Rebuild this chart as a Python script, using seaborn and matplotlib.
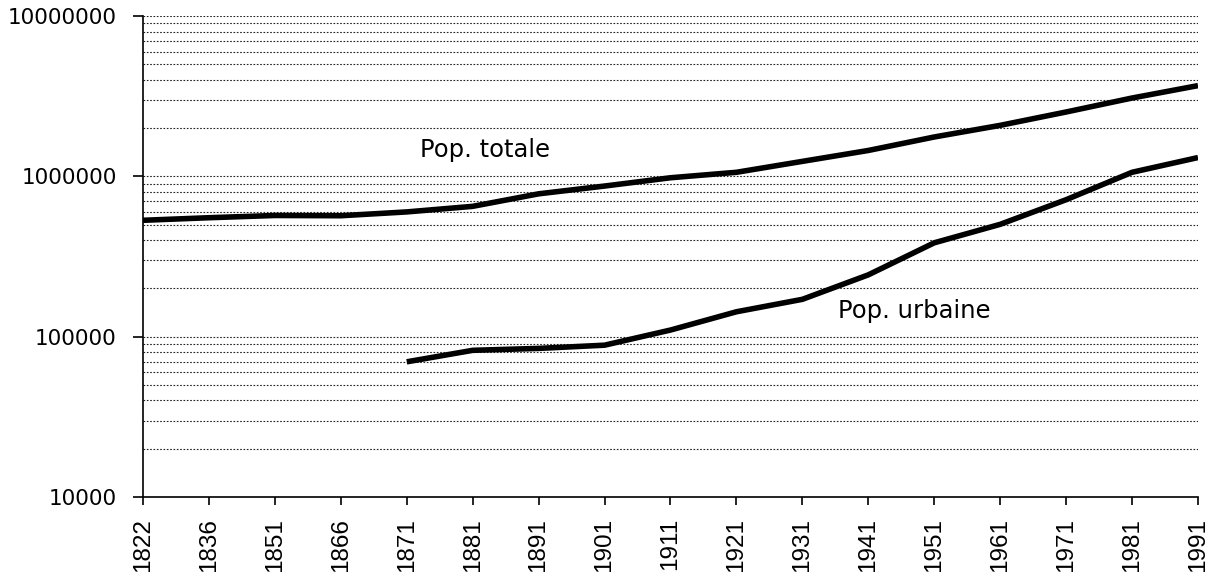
import matplotlib
matplotlib.use("Agg")
import matplotlib.pyplot as plt
import matplotlib.ticker as mticker
import numpy as np
import pandas as pd
import seaborn as sns

# ---- data ----
years = ["1822", "1836", "1851", "1866", "1871", "1881", "1891", "1901", "1911",
         "1921", "1931", "1941", "1951", "1961", "1971", "1981", "1991"]
pop_totale = [532000, 552000, 570000, 568000, 600000, 650000, 778000, 870000, 980000,
              1060000, 1240000, 1450000, 1760000, 2080000, 2520000, 3080000, 3680000]
pop_urbaine = [np.nan, np.nan, np.nan, np.nan, 69700, 82200, 84500, 88500, 110000,
               143000, 171000, 243000, 385000, 502000, 715000, 1060000, 1310000]
series_names = ["Pop. totale", "Pop. urbaine"]
y_ticks = [10000, 100000, 1000000, 10000000]

sns.set_style("ticks")
plt.rcParams["font.family"] = ["DejaVu Sans"]
plt.rcParams["text.color"] = "black"
plt.rcParams["xtick.color"] = "black"
plt.rcParams["ytick.color"] = "black"
plt.rcParams["axes.edgecolor"] = "black"

pos = list(range(len(years)))
df = pd.DataFrame({
    "pos": pos * 2,
    "value": pop_totale + pop_urbaine,
    "series": [series_names[0]] * len(years) + [series_names[1]] * len(years),
}).dropna()

fig = plt.figure(figsize=(12.15, 5.72), dpi=100)
ax = fig.add_axes([0.1177, 0.1311, 0.8683, 0.8409])

sns.lineplot(data=df, x="pos", y="value", hue="series",
             palette={series_names[0]: "black", series_names[1]: "black"},
             linewidth=4, legend=False, ax=ax, sort=True)
for ln in ax.lines:
    ln.set_solid_capstyle("butt")
    ln.set_solid_joinstyle("round")

ax.set_yscale("log")
ax.set_ylim(10000, 10000000)
ax.set_xlim(0, len(years) - 1)

ax.yaxis.set_major_locator(mticker.FixedLocator(y_ticks))
ax.yaxis.set_major_formatter(mticker.FuncFormatter(lambda v, p: f"{int(round(v))}"))
ax.yaxis.set_minor_locator(mticker.LogLocator(base=10, subs=np.arange(2, 10)))
ax.yaxis.set_minor_formatter(mticker.NullFormatter())

ax.set_xticks(pos)
ax.set_xticklabels(years, rotation=90, fontfamily="Liberation Sans", fontsize=17.5,
                   color="black")

ax.tick_params(axis="y", which="major", length=7, width=1.2, direction="out",
               labelsize=15.5, pad=12, color="black", labelcolor="black")
ax.tick_params(axis="y", which="minor", length=0)
ax.tick_params(axis="x", which="major", length=6, width=1.2, direction="out",
               pad=9, color="black")

ax.yaxis.grid(True, which="both", linestyle=(0, (1.5, 1.5)), color="#222222",
              linewidth=0.8)
ax.xaxis.grid(False)
ax.set_axisbelow(True)

for s in ["top", "right"]:
    ax.spines[s].set_visible(False)
for s in ["left", "bottom"]:
    ax.spines[s].set_color("black")
    ax.spines[s].set_linewidth(1.2)

ax.set_xlabel("")
ax.set_ylabel("")

ax.text(4.2, 1320000, series_names[0], fontsize=17.5, color="black",
        ha="left", va="baseline")
ax.text(10.54, 131000, series_names[1], fontsize=17.5, color="black",
        ha="left", va="baseline")

fig.savefig("out.png", dpi=100, facecolor="white")
